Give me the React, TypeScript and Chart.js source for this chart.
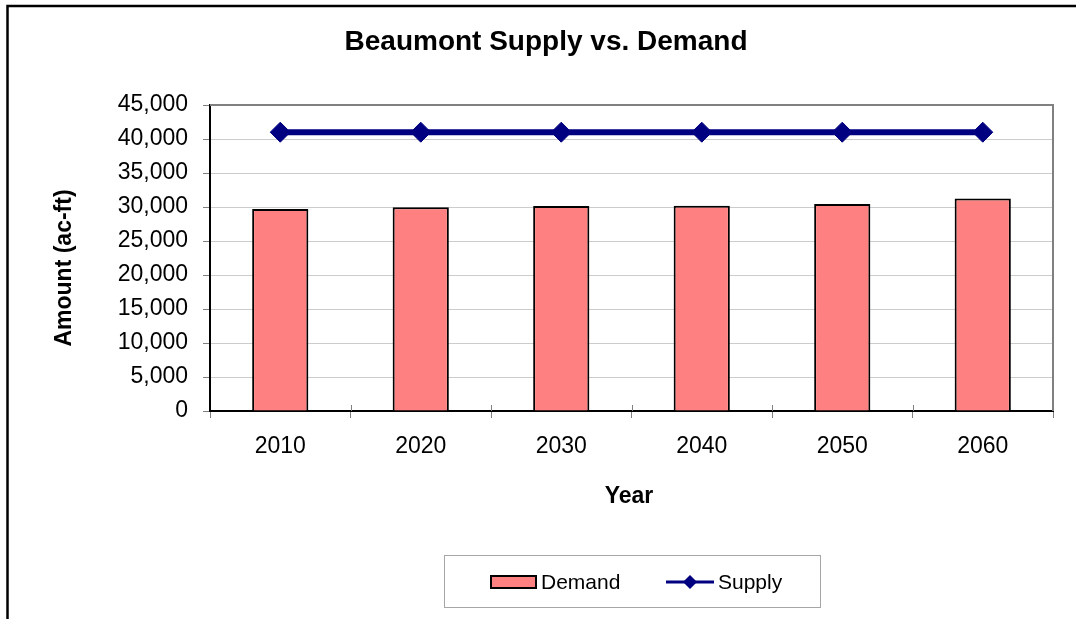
import React, { useEffect, useRef } from 'react';
import { Chart, registerables } from 'chart.js';

Chart.register(...registerables);

const years = ['2010', '2020', '2030', '2040', '2050', '2060'];
const demand = [29700, 29950, 30150, 30200, 30450, 31250];
const supply = [41000, 41000, 41000, 41000, 41000, 41000];
const yMin = 0;
const yMax = 45000;
const yStep = 5000;
const chartTitle = 'Beaumont Supply vs. Demand';
const xTitle = 'Year';
const yTitle = 'Amount (ac-ft)';
const legendOrder = ['Demand', 'Supply'];

const FONT = '"Liberation Sans", Arial, sans-serif';

const decor = {
  id: 'decor',
  beforeDraw(chart: any) {
    const ctx = chart.ctx;
    ctx.save();
    ctx.fillStyle = '#ffffff';
    ctx.fillRect(0, 0, chart.width, chart.height);
    ctx.strokeStyle = '#000000';
    ctx.lineWidth = 2.5;
    ctx.beginPath();
    ctx.moveTo(7.5, chart.height + 10);
    ctx.lineTo(7.5, 6);
    ctx.lineTo(chart.width + 10, 6);
    ctx.stroke();
    ctx.restore();
  },
  beforeDatasetsDraw(chart: any) {
    const { ctx, chartArea: a } = chart;
    ctx.save();
    ctx.strokeStyle = '#808080';
    ctx.lineWidth = 2;
    ctx.beginPath();
    ctx.moveTo(a.left, a.top);
    ctx.lineTo(a.right, a.top);
    ctx.lineTo(a.right, a.bottom);
    ctx.stroke();
    // upper half of crossing category tick marks
    const xs = chart.scales.x;
    ctx.strokeStyle = '#808080';
    ctx.lineWidth = 1;
    const n = chart.data.labels.length;
    for (let i = 1; i < n; i++) {
      const x = Math.round((xs.getPixelForValue(i - 1) + xs.getPixelForValue(i)) / 2) + 0.5;
      ctx.beginPath();
      ctx.moveTo(x, a.bottom - 6);
      ctx.lineTo(x, a.bottom);
      ctx.stroke();
    }
    ctx.restore();
  },
  afterDraw(chart: any) {
    const { ctx, chartArea: a } = chart;
    ctx.save();
    ctx.fillStyle = '#000000';
    ctx.textAlign = 'center';
    ctx.textBaseline = 'middle';
    ctx.font = `bold 28px ${FONT}`;
    ctx.fillText(chartTitle, 546, 42);
    ctx.font = `bold 23px ${FONT}`;
    ctx.fillText(xTitle, 629, 497);
    ctx.save();
    ctx.translate(65, 268);
    ctx.rotate(-Math.PI / 2);
    ctx.fillText(yTitle, 0, 0);
    ctx.restore();

    // legend
    ctx.strokeStyle = '#a6a6a6';
    ctx.lineWidth = 1;
    ctx.strokeRect(444.5, 555.5, 376, 52);
    const ly = 582;
    ctx.font = `21px ${FONT}`;
    ctx.textAlign = 'left';
    const ds = chart.data.datasets;
    const dem = ds.find((d: any) => d.label === legendOrder[0]);
    const sup = ds.find((d: any) => d.label === legendOrder[1]);
    ctx.fillStyle = dem.backgroundColor;
    ctx.fillRect(491, 576, 45, 12);
    ctx.strokeStyle = dem.borderColor;
    ctx.lineWidth = 2;
    ctx.strokeRect(491, 576, 45, 12);
    ctx.fillStyle = '#000000';
    ctx.fillText(dem.label, 541, ly + 1);

    ctx.strokeStyle = sup.borderColor;
    ctx.lineWidth = 3;
    ctx.beginPath();
    ctx.moveTo(666, ly);
    ctx.lineTo(714, ly);
    ctx.stroke();
    ctx.fillStyle = sup.backgroundColor;
    ctx.beginPath();
    ctx.moveTo(690, ly - 7);
    ctx.lineTo(697, ly);
    ctx.lineTo(690, ly + 7);
    ctx.lineTo(683, ly);
    ctx.closePath();
    ctx.fill();
    ctx.fillStyle = '#000000';
    ctx.fillText(sup.label, 718, ly + 1);
    ctx.restore();
  },
};

export default function App() {
  const ref = useRef<HTMLCanvasElement | null>(null);
  useEffect(() => {
    if (!ref.current) return;
    const chart = new Chart(ref.current, {
      data: {
        labels: years,
        datasets: [
          {
            type: 'line',
            label: 'Supply',
            data: supply,
            borderColor: '#000080',
            backgroundColor: '#000080',
            borderWidth: 6,
            pointStyle: 'rectRot',
            pointRadius: 10,
            pointBorderWidth: 1,
            pointBackgroundColor: '#000080',
            order: 0,
          },
          {
            type: 'bar',
            label: 'Demand',
            data: demand,
            backgroundColor: '#FF8080',
            borderColor: '#000000',
            borderWidth: 2,
            barPercentage: 0.4,
            categoryPercentage: 1,
            order: 1,
          },
        ],
      } as any,
      options: {
        responsive: false,
        animation: false,
        devicePixelRatio: 1,
        layout: { padding: { left: 0, top: 105, right: 23, bottom: 0 } },
        plugins: {
          legend: { display: false },
          title: { display: false },
          tooltip: { enabled: false },
        },
        scales: {
          x: {
            offset: true,
            grid: {
              offset: true,
              drawOnChartArea: false,
              tickLength: 7,
              tickColor: '#808080',
              tickWidth: 1,
            },
            border: { color: '#000000', width: 2 },
            ticks: {
              color: '#000000',
              font: { size: 23, family: FONT },
              padding: 15,
              maxRotation: 0,
            },
            afterFit: (s: any) => {
              s.height = 208;
            },
          },
          y: {
            min: yMin,
            max: yMax,
            ticks: {
              stepSize: yStep,
              color: '#000000',
              font: { size: 23, family: FONT },
              padding: 15,
              callback: (v: any) => Number(v).toLocaleString('en-US'),
            },
            grid: {
              color: '#cccccc',
              tickColor: '#808080',
              tickLength: 7,
              lineWidth: 1,
            },
            border: { color: '#000000', width: 2 },
            afterFit: (s: any) => {
              s.width = 210;
            },
          },
        },
      } as any,
      plugins: [decor],
    });
    return () => chart.destroy();
  }, []);
  return (
    <div style={{ position: 'absolute', left: 0, top: 0, width: 1076, height: 619 }}>
      <canvas ref={ref} width={1076} height={619} style={{ display: 'block' }} />
    </div>
  );
}
